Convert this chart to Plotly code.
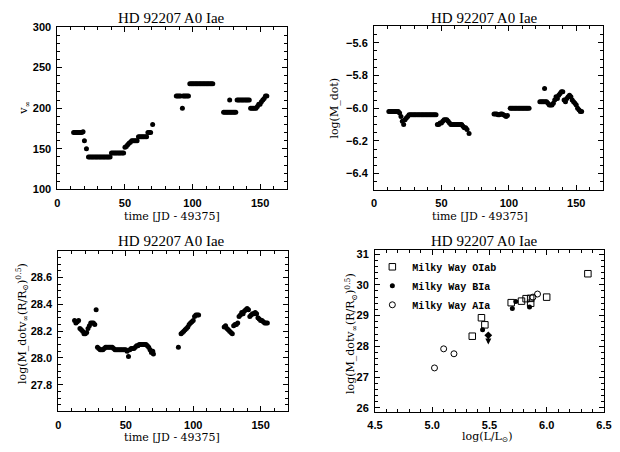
import plotly.graph_objects as go

# ---------------- data ----------------
t_vinf = [12, 13, 14, 15, 16, 17, 18, 19, 20, 21.5,
          23, 24, 25, 26, 27, 28, 29, 30, 31, 32, 33, 34, 35, 36, 37, 38, 39,
          40, 41, 42, 43, 44, 45, 46, 47, 48, 49,
          50, 51, 52, 53, 54, 55, 56, 57, 58, 59, 60, 61, 62, 63, 64, 65, 66, 67, 68, 69, 70.5,
          88, 89, 90, 91, 92.5, 93, 94, 95, 96, 97,
          98, 99, 100, 101, 102, 103, 104, 105, 106, 107, 108, 109, 110, 111, 112, 113, 114, 115,
          123, 124, 125, 126, 127, 127.5, 128, 129, 130, 131, 132,
          133, 134, 135, 136, 137, 138, 139, 140, 141, 142,
          143, 144, 145, 146, 147, 148, 149, 150, 151, 152, 153, 154, 155]
vinf = [170, 170, 170, 170, 170, 170, 170, 171, 160, 150,
        140, 140, 140, 140, 140, 140, 140, 140, 140, 140, 140, 140, 140, 140, 140, 140, 140,
        145, 145, 145, 145, 145, 145, 145, 145, 145, 145,
        152, 153, 155, 157, 158, 160, 160, 160, 160, 160, 165, 165, 165, 165, 165, 165, 165, 170, 170, 170, 180,
        215, 215, 215, 215, 200, 215, 215, 215, 215, 215,
        230, 230, 230, 230, 230, 230, 230, 230, 230, 230, 230, 230, 230, 230, 230, 230, 230, 230,
        195, 195, 195, 195, 195, 210, 195, 195, 195, 195, 195,
        210, 210, 210, 210, 210, 210, 210, 210, 210, 210,
        200, 200, 200, 200, 200, 202, 205, 205, 208, 210, 212, 215, 215]

t_mdot = [11, 12, 13, 14, 15, 16, 17, 18, 19, 20, 21, 22, 23, 24, 25,
          26, 27, 28, 29, 30, 31, 32, 33, 34, 35, 36, 37, 38, 39, 40, 41, 42, 43, 44, 45, 46,
          47, 48, 49, 50, 51, 52, 53, 54, 55, 56, 57, 58, 59, 60, 61, 62, 63, 64, 65, 66, 67, 68, 69, 70.5,
          89, 90, 91, 92, 93, 94, 95, 96, 97, 98, 99,
          101, 102, 103, 104, 105, 106, 107, 108, 109, 110, 111, 112, 113, 114, 115,
          123, 124, 125, 126, 126.5, 127, 128, 129, 130, 131, 132, 133,
          134, 135, 136, 137, 138, 139, 140, 141, 142, 143, 144, 145, 146, 147, 148, 149, 150,
          151, 152, 153, 154]
mdot = [-6.02, -6.02, -6.02, -6.02, -6.02, -6.02, -6.02, -6.02, -6.03, -6.05, -6.08, -6.10, -6.07, -6.06, -6.05,
        -6.04, -6.04, -6.04, -6.04, -6.04, -6.04, -6.04, -6.04, -6.04, -6.04, -6.04, -6.04, -6.04, -6.04, -6.04,
        -6.04, -6.04, -6.04, -6.04, -6.04, -6.04,
        -6.10, -6.10, -6.09, -6.09, -6.08, -6.07, -6.07, -6.07, -6.08, -6.09, -6.10, -6.10, -6.10, -6.10, -6.10,
        -6.10, -6.10, -6.10, -6.10, -6.11, -6.12, -6.12, -6.13, -6.155,
        -6.035, -6.035, -6.035, -6.04, -6.04, -6.035, -6.035, -6.04, -6.045, -6.05, -6.045,
        -6.00, -6.00, -6.00, -6.00, -6.00, -6.00, -6.00, -6.00, -6.00, -6.00, -6.00, -6.00, -6.00, -6.00, -6.00,
        -5.96, -5.96, -5.96, -5.96, -5.88, -5.96, -5.96, -5.97, -5.98, -5.98, -5.98, -5.97,
        -5.95, -5.93, -5.94, -5.92, -5.91, -5.90, -5.90, -5.95, -5.96, -5.94, -5.93, -5.92, -5.93, -5.95, -5.96,
        -5.97, -5.98, -6.00, -6.01, -6.02, -6.02]

t_mom = [12, 13, 14, 15, 16, 17, 18, 19, 20, 21, 22, 23, 24, 25, 26, 27, 28,
         29, 30, 31, 32, 33, 34, 35, 36, 37, 38, 39, 40, 41, 42, 43, 44, 45, 46, 47, 48, 49, 50,
         51, 52, 53, 54, 55, 56, 57, 58, 59, 60, 61, 62, 63, 64, 65, 66, 67, 68, 69, 70, 70.5,
         89, 91, 92, 93, 94, 95, 96, 97, 98, 99, 100, 101, 102, 103, 104,
         123, 124, 125, 126, 127, 128, 129, 130, 131, 132, 133,
         134, 135, 136, 137, 138, 139, 140, 141,
         142, 143, 144, 145, 146, 147, 148, 149, 150, 151, 152, 153, 154, 155]
mom = [28.28, 28.26, 28.27, 28.28, 28.22, 28.21, 28.20, 28.18, 28.18, 28.19, 28.22, 28.24, 28.26, 28.26, 28.26, 28.25, 28.36,
       28.08, 28.07, 28.06, 28.06, 28.06, 28.07, 28.08, 28.08, 28.08, 28.08, 28.08, 28.08, 28.07, 28.06, 28.06,
       28.06, 28.06, 28.06, 28.06, 28.06, 28.06, 28.06,
       28.05, 28.01, 28.06, 28.07, 28.07, 28.07, 28.08, 28.09, 28.09, 28.10, 28.10, 28.10, 28.10, 28.10, 28.10,
       28.09, 28.08, 28.06, 28.04, 28.05, 28.03,
       28.08, 28.18, 28.19, 28.20, 28.21, 28.22, 28.23, 28.25, 28.26, 28.27, 28.28, 28.31, 28.32, 28.32, 28.32,
       28.23, 28.24, 28.22, 28.21, 28.20, 28.19, 28.18, 28.24, 28.25, 28.25, 28.26,
       28.31, 28.32, 28.34, 28.33, 28.35, 28.36, 28.37, 28.36,
       28.31, 28.32, 28.33, 28.33, 28.34, 28.33, 28.30, 28.29, 28.28, 28.28, 28.27, 28.26, 28.26, 28.26]

olab_logL = [5.35, 5.43, 5.46, 5.69, 5.78, 5.82, 5.86, 5.86, 6.00, 6.36]
olab_mom = [28.33, 28.93, 28.70, 29.42, 29.47, 29.55, 29.56, 29.40, 29.60, 30.36]
bia_logL = [5.44, 5.70, 5.73, 5.85]
bia_mom = [28.54, 29.23, 29.46, 29.28]
bia_lim_logL = [5.49]
bia_lim_mom = [28.36]
aia_logL = [5.02, 5.10, 5.19, 5.88, 5.92]
aia_mom = [27.30, 27.92, 27.76, 29.60, 29.70]

time_ticks = [0, 50, 100, 150]
vinf_ticks = [100, 150, 200, 250, 300]
mdot_ticks = [-6.4, -6.2, -6.0, -5.8, -5.6]
mom_ticks = [27.8, 28.0, 28.2, 28.4, 28.6]
logL_ticks = [4.5, 5.0, 5.5, 6.0, 6.5]
mom4_ticks = [26, 27, 28, 29, 30, 31]

title_text = "HD 92207 A0 Iae"
time_label = "time [JD - 49375]"

# ---------------- figure ----------------
W, H = 620, 452
def px_x(a, b):
    return [a / W, b / W]
def px_y(top, bottom):
    return [1 - bottom / H, 1 - top / H]

tickfont = dict(family="Liberation Sans", size=11, color="black", weight="bold")

def ax(domain, rng, tickvals, fmt, minor_dtick, anchor):
    texts = ["<b>" + format(v, fmt).replace("-", "\u2212") + "</b>" for v in tickvals]
    return dict(domain=domain, range=rng, anchor=anchor, showline=True, linecolor="black",
                linewidth=1, mirror="allticks", ticks="inside", ticklen=5, tickwidth=1,
                tickcolor="black", showgrid=False, zeroline=False, tickfont=tickfont,
                ticklabelstandoff=3, tickmode="array", tickvals=tickvals, ticktext=texts,
                minor=dict(ticks="inside", ticklen=3, tickwidth=1, tickcolor="black",
                           dtick=minor_dtick, tick0=0, showgrid=False))

fig = go.Figure()
mk = dict(color="black", size=5, symbol="circle")
fig.add_trace(go.Scatter(x=t_vinf, y=vinf, mode="markers", marker=mk, xaxis="x", yaxis="y", showlegend=False))
fig.add_trace(go.Scatter(x=t_mdot, y=mdot, mode="markers", marker=mk, xaxis="x2", yaxis="y2", showlegend=False))
fig.add_trace(go.Scatter(x=t_mom, y=mom, mode="markers", marker=mk, xaxis="x3", yaxis="y3", showlegend=False))

fig.add_trace(go.Scatter(x=olab_logL, y=olab_mom, mode="markers", name="Milky Way OIab",
                         marker=dict(symbol="square-open", size=6.5, color="black", line=dict(width=1)),
                         xaxis="x4", yaxis="y4"))
fig.add_trace(go.Scatter(x=bia_logL, y=bia_mom, mode="markers", name="Milky Way BIa",
                         marker=dict(symbol="circle", size=5, color="black"),
                         xaxis="x4", yaxis="y4"))
fig.add_trace(go.Scatter(x=aia_logL, y=aia_mom, mode="markers", name="Milky Way AIa",
                         marker=dict(symbol="circle-open", size=6, color="black", line=dict(width=1)),
                         xaxis="x4", yaxis="y4"))
fig.add_trace(go.Scatter(x=bia_lim_logL, y=bia_lim_mom, mode="markers", showlegend=False,
                         marker=dict(symbol="diamond", size=6, color="black"),
                         xaxis="x4", yaxis="y4"))
for lx, ly in zip(bia_lim_logL, bia_lim_mom):
    fig.add_annotation(x=lx, y=ly - 0.3, ax=lx, ay=ly, xref="x4", yref="y4",
                       axref="x4", ayref="y4", showarrow=True, arrowhead=2, arrowsize=1,
                       arrowwidth=1.2, arrowcolor="black", text="", font=dict(size=1),
                       standoff=0, startstandoff=0)

fig.update_layout(
    width=W, height=H, margin=dict(l=0, r=0, t=0, b=0),
    paper_bgcolor="white", plot_bgcolor="white",
    xaxis=ax(px_x(50.7, 286.5), [0, 170], time_ticks, "d", 10, "y"),
    yaxis=ax(px_y(21.5, 188.5), [100, 300], vinf_ticks, "d", 10, "x"),
    xaxis2=ax(px_x(375.7, 611), [0, 170], time_ticks, "d", 10, "y2"),
    yaxis2=ax(px_y(21, 189), [-6.5, -5.5], mdot_ticks, ".1f", 0.05, "x2"),
    xaxis3=ax(px_x(51.7, 287), [0, 170], time_ticks, "d", 10, "y3"),
    yaxis3=ax(px_y(251.5, 416.5), [27.6, 28.8], mom_ticks, ".1f", 0.05, "x3"),
    xaxis4=ax(px_x(376.7, 611.7), [4.5, 6.5], logL_ticks, ".1f", 0.1, "y4"),
    yaxis4=ax(px_y(251, 416.7), [25.88, 31.12], mom4_ticks, "d", 0.2, "x4"),
    legend=dict(x=374 / W, y=1 - 253 / H, xanchor="left", yanchor="top",
                bgcolor="rgba(0,0,0,0)",
                font=dict(family="Liberation Mono", size=10, color="black", weight="bold"),
                tracegroupgap=0, itemwidth=30),
)

tfont = dict(family="Liberation Serif", size=15, color="black")
lfont = dict(family="DejaVu Serif", size=11, color="black")
for cx, cy in [(168, 12.5), (489, 12.5), (168, 241), (489, 241)]:
    fig.add_annotation(x=cx / W, y=1 - cy / H, xref="paper", yref="paper", text=title_text,
                       showarrow=False, font=tfont, xanchor="center", yanchor="middle")
for cx, cy, txt in [(168, 216, time_label), (484, 216, time_label), (168, 443, time_label),
                    (492, 443, "log(L/L<sub>⊙</sub>)")]:
    fig.add_annotation(x=cx / W, y=1 - cy / H, xref="paper", yref="paper", text=txt,
                       showarrow=False, font=lfont, xanchor="center", yanchor="middle")
ylab34 = "log(M_dotv<sub>∞</sub>(R/R<sub>⊙</sub>)<sup>0.5</sup>)"
for cx, cy, txt in [(17, 105, "v<sub>∞</sub>"), (335, 105, "log(M_dot)"),
                    (15, 326, ylab34), (352, 336, ylab34)]:
    fig.add_annotation(x=cx / W, y=1 - cy / H, xref="paper", yref="paper", text=txt,
                       showarrow=False, font=lfont, textangle=-90, xanchor="center", yanchor="middle")

fig.write_html("out.html", config={"displayModeBar": False},
               post_script="document.body.style.margin='0';")
